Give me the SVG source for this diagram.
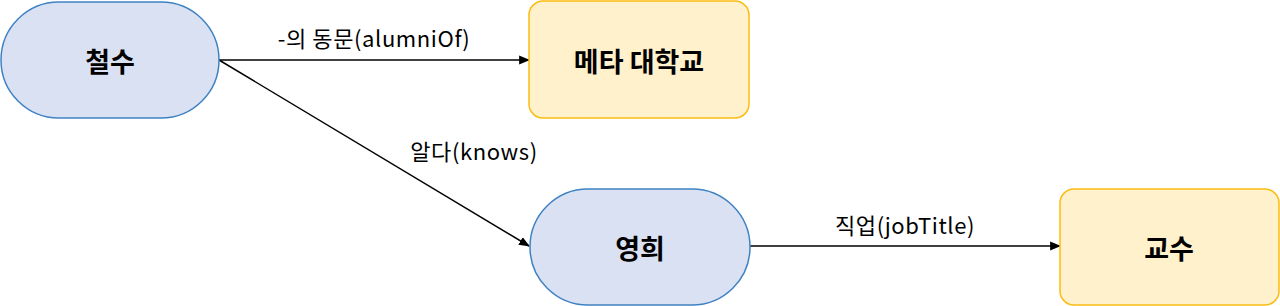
<svg xmlns="http://www.w3.org/2000/svg" width="1280" height="306" viewBox="0 0 1280 306">
<style>
.person{fill:#dae1f2;stroke:#3f82c4;stroke-width:1.5}
.thing{fill:#fff1cc;stroke:#fbbd13;stroke-width:1.5}
.nl{font-family:"Noto Sans CJK KR","Noto Sans",sans-serif;font-size:27px;font-weight:bold;fill:#000;text-anchor:middle;dominant-baseline:central}
.el{font-family:"Noto Sans CJK KR","Noto Sans",sans-serif;font-size:22px;letter-spacing:0.6px;fill:#000;text-anchor:middle;dominant-baseline:central}
.edge{stroke:#000;stroke-width:1.5;fill:none;marker-end:url(#ah)}
</style>
<defs>
<marker id="ah" viewBox="0 0 10 10" refX="9" refY="5" markerWidth="11" markerHeight="11" markerUnits="userSpaceOnUse" orient="auto">
<path d="M0,1 L10,5 L0,9 z" fill="#000"/>
</marker>
</defs>
<rect width="1280" height="306" fill="#fff"/>
<g id="connectors">
<line class="edge" x1="219" y1="60" x2="529" y2="60"/>
<line class="edge" x1="219" y1="60" x2="529" y2="246"/>
<line class="edge" x1="750" y1="246" x2="1060" y2="246"/>
<text class="el" x="374" y="37">-의 동문(alumniOf)</text>
<text class="el" x="474" y="150">알다(knows)</text>
<text class="el" x="905" y="224">직업(jobTitle)</text>
</g>
<g id="node-cheolsu">
<rect class="person" x="1" y="2" width="218" height="116" rx="58" ry="58"/>
<text class="nl" x="110" y="60">철수</text>
</g>
<g id="node-meta">
<rect class="thing" x="529" y="1" width="220" height="117" rx="14" ry="14"/>
<text class="nl" x="639" y="60">메타 대학교</text>
</g>
<g id="node-younghee">
<rect class="person" x="530" y="189" width="220" height="116" rx="58" ry="58"/>
<text class="nl" x="640" y="247">영희</text>
</g>
<g id="node-professor">
<rect class="thing" x="1060" y="189" width="219" height="116" rx="14" ry="14"/>
<text class="nl" x="1169" y="247">교수</text>
</g>
</svg>
